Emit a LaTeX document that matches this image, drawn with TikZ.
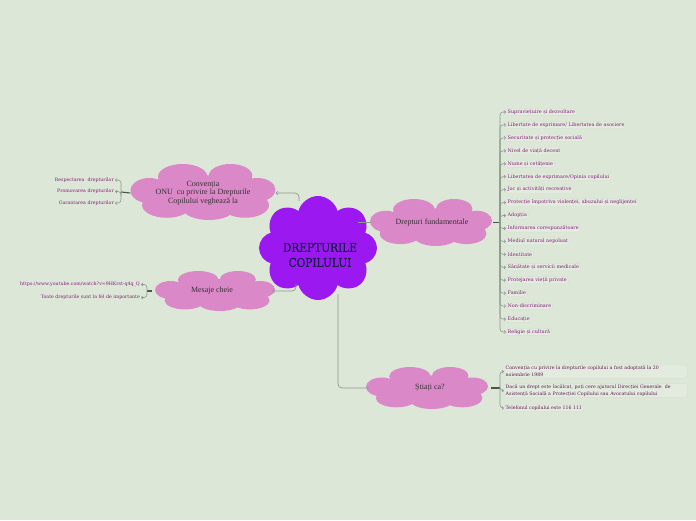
\documentclass[tikz,border=0pt]{standalone}
\usepackage{fontspec}
\setmainfont{Liberation Serif}
\newfontfamily\itemfont{DejaVu Serif}
\newfontfamily\rootfont[FakeStretch=0.88,FakeBold=0.8]{DejaVu Serif}
\usetikzlibrary{shapes.symbols,arrows.meta}
\definecolor{bg}{HTML}{DCE7D7}
\definecolor{rootfill}{HTML}{9B19F0}
\definecolor{pinkfill}{HTML}{DA88C8}
\definecolor{navy}{HTML}{1B1B4E}
\definecolor{itemtext}{HTML}{84207A}
\definecolor{infotext}{HTML}{5E1A55}
\definecolor{itembg}{HTML}{E2EBDE}
\definecolor{itembd}{HTML}{D6E0D2}
\definecolor{connc}{HTML}{8E9A8E}
\definecolor{trunkc}{HTML}{4A544A}
\tikzset{
  rootcloud/.style={cloud, cloud puffs=8, cloud puff arc=150, cloud ignores aspect, fill=rootfill, inner sep=0pt},
  pinklabel/.style={rectangle, inner sep=0pt, font=\fontsize{8}{8.3}\selectfont, text=black!80, align=center},
  itembox/.style={fill=itembg, draw=itembd, line width=0.4pt, rounded corners=1.5pt, inner xsep=1.5pt, inner ysep=1.2pt, font=\itemfont\fontsize{4.9}{5.8}\selectfont, text=itemtext},
  infobox/.style={itembox, text=infotext, align=left, text width=180pt, font=\itemfont\fontsize{4.7}{7}\selectfont},
  leftitem/.style={inner sep=1pt, font=\itemfont\fontsize{4.7}{5.5}\selectfont, text=itemtext},
  conn/.style={draw=connc, line width=0.7pt, rounded corners=4pt},
  connarrow/.style={conn, -{Straight Barb[length=1.8pt,width=3.5pt]}},
  brk/.style={draw=connc, line width=0.6pt, rounded corners=3pt, -{Straight Barb[length=1.5pt,width=3pt]}},
  trunk/.style={draw=trunkc, line width=1.1pt}
}
% cloud made of ellipses: centre x, centre y, half width, half height
\newcommand\pinkcloudshape[4]{%
  \begin{scope}[shift={(#1,#2)},x=#3pt,y=-#4pt]
    \fill[pinkfill] (0,0) ellipse[x radius=.75,y radius=.6]
      (-0.28,-0.55) ellipse[x radius=.34,y radius=.45]
      (0.38,-0.58) ellipse[x radius=.30,y radius=.42]
      (0.75,-0.08) ellipse[x radius=.25,y radius=.42]
      (0.58,0.47) ellipse[x radius=.33,y radius=.45]
      (0.08,0.58) ellipse[x radius=.36,y radius=.42]
      (-0.5,0.47) ellipse[x radius=.34,y radius=.45]
      (-0.74,-0.05) ellipse[x radius=.26,y radius=.45];
  \end{scope}}
\begin{document}
\begin{tikzpicture}[x=1pt,y=-1pt]
\fill[bg] (0,0) rectangle (696,520);
\useasboundingbox (0,0) rectangle (696,520);

% central cloud
\node[rootcloud, minimum width=118pt, minimum height=104pt] (root) at (318,248) {};
\node[font=\rootfont\fontsize{12}{15}\selectfont, text=navy, align=center] (roottext) at (320,255) {DREPTURILE\\COPILULUI};

% pink clouds
\pinkcloudshape{203}{192}{72.5}{28}
\pinkcloudshape{215}{291}{60}{20}
\pinkcloudshape{431}{222.5}{61}{23.5}
\pinkcloudshape{427}{388}{61}{21}
\node[pinklabel, minimum width=145pt, minimum height=56pt] (conv) at (203,193) {Convenția\\ONU~ cu privire la Drepturile\\Copilului veghează la};
\node[pinklabel, minimum width=120pt, minimum height=40pt] (mes) at (212,291) {Mesaje cheie};
\node[pinklabel, minimum width=122pt, minimum height=47pt] (df) at (432,222.5) {Drepturi fundamentale};
\node[pinklabel, minimum width=122pt, minimum height=42pt] (sc) at (430,388) {Știați ca?};

% connectors from root
\coordinate (rootA) at (299,201);
\coordinate (rootB) at (296,284);
\coordinate (rootC) at (358,222.5);
\coordinate (rootD) at (338,294);
\draw[connarrow] (rootA) |- (conv.east);
\draw[connarrow] (rootB) |- (mes.east);
\draw[conn] (rootC) -- (df.west);
\draw[conn] (rootD) |- (sc.west);

% bracket points
\coordinate (dfb) at (500,222.5);
\coordinate (cvb) at (121,192);
\coordinate (msb) at (147,291);
\coordinate (scb) at (500,388);
\draw[trunk] (df.east) -- (dfb);
\draw[trunk] (conv.west) -- (cvb);
\draw[trunk] (mes.west) -- (msb);
\draw[trunk] (sc.east) -- (scb);

% right list
\foreach \t [count=\i] in {Supraviețuire și dezvoltare, Libertate de exprimare/ Libertatea de asociere, Securitate și protecție socială, Nivel de viață decent, Nume și cetățenie, Libertatea de exprimare/Opinia copilului, Joc și activități recreative, {Protecție împotriva violenței, abuzului și neglijenței}, Adopția, Informarea corespunzătoare, Mediul natural nepoluat, Identitate, Sănătate și servicii medicale, Protejarea vieții private, Familie, Non-discriminare, Educație, Religie și cultură}{
  \node[itembox, anchor=west] (dfi\i) at (506,{112+(\i-1)*12.94}) {\t};
  \draw[brk] (dfb) |- (dfi\i.west);
}

% left list (Conventia)
\foreach \t [count=\i] in {Respectarea~ drepturilor, Promovarea drepturilor, Garantarea drepturilor}{
  \node[leftitem, anchor=east] (cvi\i) at (115,{180+(\i-1)*11.5}) {\t};
  \draw[brk] (cvb) |- (cvi\i.east);
}

% left list (Mesaje cheie)
\node[leftitem, anchor=east] (msi1) at (141,284.5) {https://www.youtube.com/watch?v=9HKrst-q4q\_Q};
\node[leftitem, anchor=east] (msi2) at (141,297.5) {Toate drepturile sunt la fel de importante};
\draw[brk] (msb) |- (msi1.east);
\draw[brk] (msb) |- (msi2.east);

% Stiati ca list
\node[infobox, anchor=west] (sci1) at (504,371.5) {Convenția cu privire la drepturile copilului a fost adoptată la 20\\noiembrie 1989};
\node[infobox, anchor=west] (sci2) at (504,390.5) {Dacă un drept este încălcat, poți cere ajutorul Direcției Generale~ de\\Asistență Socială a Protecției Copilului sau Avocatului copilului};
\node[itembox, text=infotext, font=\itemfont\fontsize{4.7}{5.5}\selectfont, anchor=west] (sci3) at (504,408) {Telefonul copilului este 116 111};
\draw[brk] (scb) |- (sci1.west);
\draw[brk] (scb) |- (sci2.west);
\draw[brk] (scb) |- (sci3.west);
\end{tikzpicture}
\end{document}
